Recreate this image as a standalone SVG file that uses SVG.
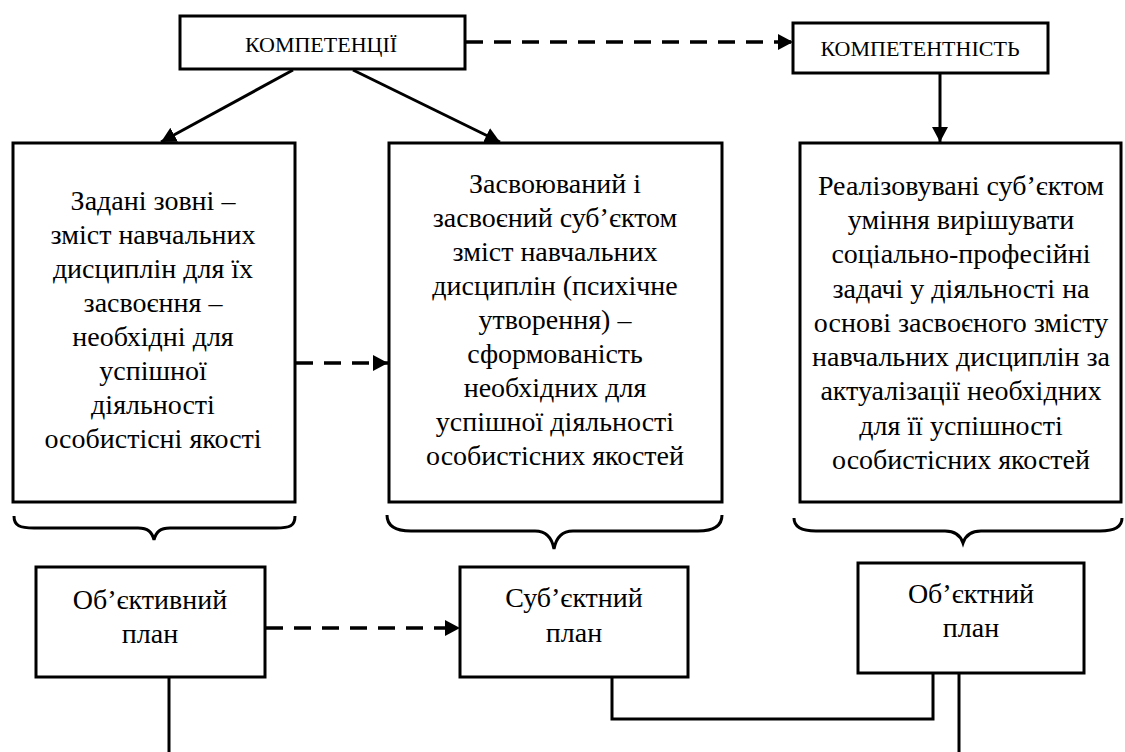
<svg xmlns="http://www.w3.org/2000/svg" width="1125" height="752" viewBox="0 0 1125 752">
  <style>
    .box { fill: #fff; stroke: #000; stroke-width: 3; }
    .body { font-family: 'Liberation Serif', 'Times New Roman', serif; font-size: 28px; fill: #000; text-anchor: middle; }
    .cap { font-family: 'Liberation Serif', 'Times New Roman', serif; font-size: 22px; fill: #000; text-anchor: middle; }
    .ln { fill: none; stroke: #000; stroke-width: 3; }
    .dash { fill: none; stroke: #000; stroke-width: 3.5; stroke-dasharray: 17 11; }
  </style>
  <defs>
    <marker id="arrow" viewBox="0 0 15 16" refX="15" refY="8" markerWidth="15" markerHeight="16" markerUnits="userSpaceOnUse" orient="auto">
      <path d="M0,0 L15,8 L0,16 Z" fill="#000"/>
    </marker>
  </defs>
  <rect width="1125" height="752" fill="#fff"/>

  <!-- connectors -->
  <g id="connectors">
    <line class="dash" x1="466" y1="42" x2="793" y2="42" marker-end="url(#arrow)"/>
    <line class="ln" x1="293" y1="70" x2="161" y2="142" marker-end="url(#arrow)"/>
    <line class="ln" x1="353" y1="70" x2="500" y2="142" marker-end="url(#arrow)"/>
    <line class="ln" x1="940" y1="73" x2="940" y2="142" marker-end="url(#arrow)"/>
    <line class="dash" x1="296" y1="363" x2="388" y2="363" marker-end="url(#arrow)"/>
    <line class="dash" x1="266" y1="628" x2="460" y2="628" marker-end="url(#arrow)"/>
    <!-- braces under the three content blocks -->
    <path class="ln" d="M14,516 C14,526 20,528 34,528 L138,528 C148,528 152,532 154,540 C156,532 160,528 170,528 L276,528 C290,528 295,526 295,516"/>
    <path class="ln" d="M387,515 C387,527 397,531 411,531 L535,531 C547,531 552,538 554,549 C556,538 561,531 573,531 L698,531 C712,531 722,527 722,515"/>
    <path class="ln" d="M794,518 C794,527 802,531 816,531 L945,531 C956,531 961,537 963,543 C965,537 970,531 981,531 L1100,531 C1114,531 1122,527 1122,518"/>
    <!-- lower links -->
    <line class="ln" x1="169" y1="677" x2="169" y2="752"/>
    <polyline class="ln" points="612,677 612,719 933,719 933,673"/>
    <line class="ln" x1="959" y1="673" x2="959" y2="752"/>
  </g>

  <g id="competencies">
    <rect class="box" x="180" y="16" width="285" height="53"/>
    <text class="cap" x="321" y="52">КОМПЕТЕНЦІЇ</text>
  </g>

  <g id="competence">
    <rect class="box" x="793" y="23" width="255" height="50"/>
    <text class="cap" x="920" y="56">КОМПЕТЕНТНІСТЬ</text>
  </g>

  <g id="external-content">
    <rect class="box" x="13" y="143" width="282" height="359"/>
    <text class="body" x="153" y="210">Задані зовні –</text>
    <text class="body" x="153" y="244">зміст навчальних</text>
    <text class="body" x="153" y="278">дисциплін для їх</text>
    <text class="body" x="153" y="312">засвоєння –</text>
    <text class="body" x="153" y="346">необхідні для</text>
    <text class="body" x="153" y="380">успішної</text>
    <text class="body" x="153" y="414">діяльності</text>
    <text class="body" x="153" y="448">особистісні якості</text>
  </g>

  <g id="assimilated-content">
    <rect class="box" x="389" y="143" width="333" height="359"/>
    <text class="body" x="555" y="193">Засвоюваний і</text>
    <text class="body" x="555" y="227">засвоєний суб’єктом</text>
    <text class="body" x="555" y="261">зміст навчальних</text>
    <text class="body" x="555" y="295">дисциплін (психічне</text>
    <text class="body" x="555" y="329">утворення) –</text>
    <text class="body" x="555" y="363">сформованість</text>
    <text class="body" x="555" y="397">необхідних для</text>
    <text class="body" x="555" y="431">успішної діяльності</text>
    <text class="body" x="555" y="465">особистісних якостей</text>
  </g>

  <g id="realized-skills">
    <rect class="box" x="800" y="143" width="321" height="359"/>
    <text class="body" x="961" y="195">Реалізовувані суб’єктом</text>
    <text class="body" x="961" y="229">уміння вирішувати</text>
    <text class="body" x="961" y="263">соціально-професійні</text>
    <text class="body" x="961" y="298">задачі у діяльності на</text>
    <text class="body" x="961" y="332">основі засвоєного змісту</text>
    <text class="body" x="961" y="366">навчальних дисциплін за</text>
    <text class="body" x="961" y="400">актуалізації необхідних</text>
    <text class="body" x="961" y="435">для її успішності</text>
    <text class="body" x="961" y="469">особистісних якостей</text>
  </g>

  <g id="objective-plan">
    <rect class="box" x="36" y="567" width="229" height="110"/>
    <text class="body" x="150" y="609">Об’єктивний</text>
    <text class="body" x="150" y="643">план</text>
  </g>

  <g id="subjective-plan">
    <rect class="box" x="460" y="567" width="228" height="110"/>
    <text class="body" x="574" y="607">Суб’єктний</text>
    <text class="body" x="574" y="642">план</text>
  </g>

  <g id="object-plan">
    <rect class="box" x="858" y="563" width="226" height="110"/>
    <text class="body" x="971" y="603">Об’єктний</text>
    <text class="body" x="971" y="637">план</text>
  </g>
</svg>
